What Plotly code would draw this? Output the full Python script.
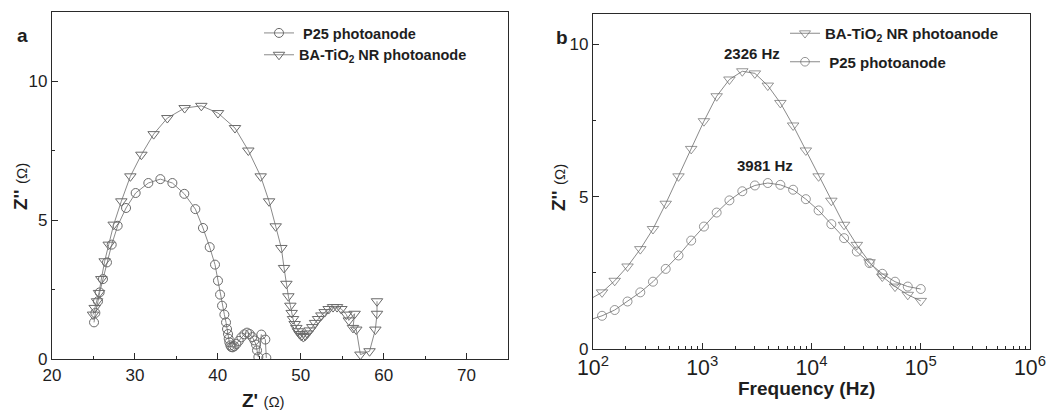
import math
import plotly.graph_objects as go

# ---------------- Panel a: Nyquist data ----------------
p25_zre = [25.07, 25.23, 25.55, 25.75, 26.15, 26.63, 27.20, 27.92, 28.93, 30.09,
           31.62, 33.07, 34.52, 35.96, 37.29, 38.21, 39.02, 39.66, 40.02, 40.27,
           40.51, 40.79, 40.99, 41.11, 41.23, 41.31, 41.39, 41.51, 41.63, 41.79,
           41.99, 42.24, 42.52, 42.84, 43.20, 43.52, 43.84, 44.17, 44.41, 44.61,
           44.73, 44.89, 45.25, 45.73, 45.85]
p25_zim = [1.32, 1.66, 2.08, 2.40, 2.88, 3.48, 4.12, 4.80, 5.44, 5.98,
           6.34, 6.48, 6.34, 5.95, 5.40, 4.72, 4.03, 3.40, 2.82, 2.32,
           1.92, 1.60, 1.32, 1.08, 0.90, 0.73, 0.60, 0.49, 0.43, 0.42,
           0.46, 0.54, 0.65, 0.78, 0.89, 0.95, 0.90, 0.79, 0.67, 0.52,
           0.31, 0.07, 0.88, 0.70, 0.04]

ba_zre = [24.95, 25.15, 25.43, 25.67, 25.95, 26.35, 26.84, 27.44, 28.36, 29.45,
          30.78, 32.26, 33.91, 36.00, 38.01, 40.02, 42.07, 43.68, 45.17, 46.18,
          46.98, 47.66, 47.99, 48.27, 48.51, 48.75, 48.91, 49.07, 49.27, 49.47,
          49.67, 49.87, 50.08, 50.32, 50.56, 50.80, 51.08, 51.40, 51.73, 52.09,
          52.49, 52.89, 53.37, 53.90, 54.38, 54.90, 55.50, 55.80, 56.50, 56.30,
          56.70, 57.20, 58.30, 59.00, 59.20, 59.20]
ba_zim = [1.60, 1.84, 2.08, 2.38, 2.88, 3.52, 4.12, 4.84, 5.68, 6.58,
          7.36, 8.10, 8.68, 9.04, 9.12, 8.86, 8.32, 7.51, 6.58, 5.68,
          4.78, 4.00, 3.28, 2.71, 2.26, 1.92, 1.66, 1.44, 1.26, 1.12,
          1.00, 0.90, 0.83, 0.79, 0.84, 0.92, 1.03, 1.15, 1.30, 1.44,
          1.57, 1.69, 1.80, 1.87, 1.87, 1.80, 1.60, 1.39, 1.63, 1.12,
          1.06, 0.16, 0.28, 1.06, 1.63, 2.08]

# ---------------- Panel b: Bode (Z'' vs frequency) ----------------
freq_hz = [92, 121, 158, 207, 271, 354, 463, 606, 792, 1036, 1355, 1773, 2326,
           3033, 3981, 5189, 6787, 8878, 11612, 15189, 19867, 25987, 33991,
           44461, 58155, 76067, 100000]
ba_bode = [1.62, 1.86, 2.24, 2.71, 3.28, 3.94, 4.77, 5.67, 6.57, 7.48, 8.30, 8.85,
           9.12, 9.05, 8.65, 8.08, 7.34, 6.52, 5.67, 4.87, 4.08, 3.42, 2.85,
           2.38, 2.05, 1.78, 1.58]
p25_bode = [0.95, 1.09, 1.28, 1.56, 1.86, 2.21, 2.63, 3.07, 3.56, 4.02, 4.48, 4.88,
            5.18, 5.37, 5.45, 5.39, 5.23, 4.92, 4.55, 4.10, 3.64, 3.20, 2.82,
            2.47, 2.21, 2.05, 1.97]

peak_labels = ["2326 Hz", "3981 Hz"]
peak_freqs = [2326, 3981]
peak_label_y = [9.69, 6.01]

FONT = "Arial, Liberation Sans, sans-serif"
LINE = "#8a8a8a"
MK = "#6a6a6a"
AX = "#2a2a2a"
TXT = "#1e1e1e"

n_b = len(freq_hz)

fig = go.Figure()

# Panel a traces
fig.add_trace(go.Scatter(x=p25_zre, y=p25_zim, mode="lines+markers",
                         name="<b>\u00a0P25 photoanode</b>",
                         line=dict(color=LINE, width=1),
                         marker=dict(symbol="circle-open", size=9, color=MK, line=dict(width=1)),
                         xaxis="x", yaxis="y", legend="legend"))
fig.add_trace(go.Scatter(x=ba_zre, y=ba_zim, mode="lines+markers",
                         name="<b>BA-TiO<sub>2</sub> NR photoanode</b>",
                         line=dict(color=LINE, width=1),
                         marker=dict(symbol="triangle-down-open", size=10, color=MK, line=dict(width=1)),
                         xaxis="x", yaxis="y", legend="legend"))

# Panel b traces (first point lies just left of the axis: line only)
fig.add_trace(go.Scatter(x=freq_hz, y=ba_bode, mode="lines+markers",
                         name="<b>BA-TiO<sub>2</sub> NR photoanode</b>", legendgroup="g1",
                         line=dict(color=LINE, width=1),
                         marker=dict(symbol="triangle-down-open", size=[0] + [10] * (n_b - 1),
                                     color=MK, line=dict(width=1)),
                         xaxis="x2", yaxis="y2", legend="legend2"))
fig.add_trace(go.Scatter(x=freq_hz, y=p25_bode, mode="lines+markers",
                         name="<b>\u00a0P25 photoanode</b>", legendgroup="g2",
                         line=dict(color=LINE, width=1),
                         marker=dict(symbol="circle-open", size=[0] + [9] * (n_b - 1),
                                     color=MK, line=dict(width=1)),
                         xaxis="x2", yaxis="y2", legend="legend2"))

axis_common = dict(showline=True, linecolor=AX, linewidth=1.2, mirror=True,
                   ticks="inside", ticklen=6, tickwidth=1.2, tickcolor=AX,
                   showgrid=False, zeroline=False, automargin=False,
                   tickfont=dict(family=FONT, size=17, color=TXT))
minor_common = dict(ticks="inside", ticklen=3, tickcolor=AX, tickwidth=1)

fig.update_layout(
    width=1064, height=411,
    margin=dict(l=0, r=0, t=0, b=0, autoexpand=False),
    paper_bgcolor="white", plot_bgcolor="white",
    xaxis=dict(domain=[52 / 1064, 508 / 1064], range=[20, 75], dtick=10, tick0=0,
               minor=dict(dtick=5, **minor_common), anchor="y", **axis_common),
    yaxis=dict(domain=[1 - 359 / 411, 1 - 12 / 411], range=[0, 12.5], dtick=5, tick0=0,
               minor=dict(dtick=2.5, **minor_common), anchor="x", **axis_common),
    xaxis2=dict(domain=[593 / 1064, 1030 / 1064], type="log", range=[2, 6],
                dtick=1, exponentformat="power",
                minor=dict(dtick="D1", **minor_common), anchor="y2", **axis_common),
    yaxis2=dict(domain=[1 - 349 / 411, 1 - 14 / 411], range=[0, 11], dtick=5, tick0=0,
                minor=dict(dtick=2.5, **minor_common), anchor="x2", **axis_common),
    legend=dict(x=259 / 1064, y=1 - 17 / 411, xanchor="left", yanchor="top",
                bgcolor="rgba(0,0,0,0)", font=dict(family=FONT, size=14.5, color=TXT),
                tracegroupgap=0),
    legend2=dict(x=785 / 1064, y=1 - 17 / 411, xanchor="left", yanchor="top",
                 bgcolor="rgba(0,0,0,0)", font=dict(family=FONT, size=15, color=TXT),
                 traceorder="grouped", tracegroupgap=6),
    showlegend=True,
)

annots = [
    dict(text="<b>a</b>", x=22, y=35, size=19),
    dict(text="<b>b</b>", x=562, y=37, size=19),
    dict(text="<b>Z'</b> <span style='font-size:15px'>(Ω)</span>", x=263, y=400, size=19),
    dict(text="<b>Frequency (Hz)</b>", x=806, y=388, size=19),
]
for a in annots:
    fig.add_annotation(text=a["text"], x=a["x"] / 1064, y=1 - a["y"] / 411,
                       xref="paper", yref="paper", showarrow=False,
                       xanchor="center", yanchor="middle",
                       font=dict(family=FONT, size=a["size"], color=TXT))

for xt, yt in [(20, 187), (558, 188)]:
    fig.add_annotation(text="<b>Z''</b> <span style='font-size:15px'>(Ω)</span>",
                       x=xt / 1064, y=1 - yt / 411, xref="paper", yref="paper",
                       showarrow=False, textangle=-90, xanchor="center", yanchor="middle",
                       font=dict(family=FONT, size=19, color=TXT))

# peak frequency labels in panel b (data coords)
for lab, f, yv, xs in zip(peak_labels, peak_freqs, peak_label_y, [10, -3]):
    fig.add_annotation(text="<b>" + lab + "</b>", x=math.log10(f), y=yv,
                       xref="x2", yref="y2", showarrow=False, xanchor="center",
                       yanchor="middle", xshift=xs,
                       font=dict(family=FONT, size=15, color=TXT))

fig.write_html("out.html", config={"displayModeBar": False},
               post_script="document.body.style.margin='0px';")
